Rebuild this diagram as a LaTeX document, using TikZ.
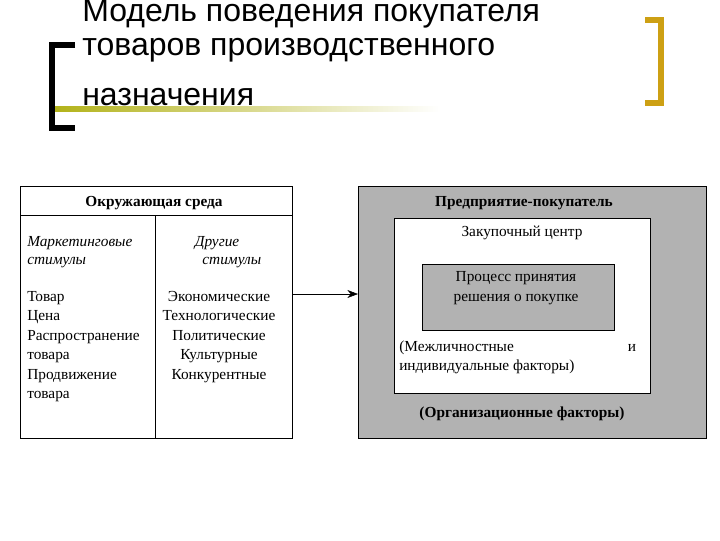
\documentclass[tikz,border=0pt]{standalone}
\usepackage{fontspec}
\usetikzlibrary{arrows.meta}
\setmainfont{Liberation Serif}
\newfontfamily\titlefont{Liberation Sans}
\begin{document}
\begin{tikzpicture}[x=0.75pt,y=-0.75pt,
  txt/.style={inner sep=0pt,font=\fontsize{11.5}{13.5}\selectfont},
  ttl/.style={inner sep=0pt,anchor=west,font=\titlefont\fontsize{24}{26}\selectfont}]
\useasboundingbox (0,0) rectangle (720,540);
\fill[white] (0,0) rectangle (720,540);
% title decoration
\shade[left color=olive!60!white, right color=white] (55,106) rectangle (440,111);
\draw[line width=4pt] (75,45) -- (52,45) -- (52,128) -- (75,128);
\draw[line width=4pt,color={rgb,255:red,205;green,160;blue,20}] (645,20) -- (661,20) -- (661,103) -- (645,103);
\node[ttl] (t1) at (82,14) {Модель поведения покупателя};
\node[ttl] (t2) at (82,50) {товаров производственного};
\node[ttl] (t3) at (82,97) {назначения};
% left box
\draw[line width=0.6pt] (20,186) rectangle (292,438);
\coordinate (L) at (292,294);
\draw (20,215) -- (292,215);
\draw (155,215) -- (155,438);
\node[txt,font=\bfseries\fontsize{11.5}{13.5}\selectfont] (env) at (154,203) {Окружающая среда};
\node[txt,anchor=north west,align=left,font=\itshape\fontsize{11.5}{13.5}\selectfont] (mk) at (27,236) {Маркетинговые\\стимулы};
\node[txt,anchor=north,align=left,font=\itshape\fontsize{11.5}{13.5}\selectfont] (ot) at (228,236) {Другие\\\ \ стимулы};
\node[txt,anchor=north west,align=left,font=\fontsize{11.5}{14.6}\selectfont] (l1) at (27,291) {Товар\\Цена\\Распространение\\товара\\Продвижение\\товара};
\node[txt,anchor=north,align=center,font=\fontsize{11.5}{14.6}\selectfont] (l2) at (219,291) {Экономические\\Технологические\\Политические\\Культурные\\Конкурентные};
% right box
\fill[gray!60] (358,186) rectangle (706,438);
\draw[line width=0.6pt] (358,186) rectangle (706,438);
\coordinate (R) at (358,294);
\draw[-{Stealth[length=8pt,width=6pt]}] (L) -- (R);
\node[txt,font=\bfseries\fontsize{11.5}{13.5}\selectfont] (ent) at (524,203) {Предприятие-покупатель};
\fill[white] (394,218) rectangle (650,393);
\draw (394,218) rectangle (650,393);
\node[txt] (zc) at (522,233) {Закупочный центр};
\fill[gray!60] (422,264) rectangle (614,330);
\draw (422,264) rectangle (614,330);
\node[txt,align=center,font=\fontsize{11.5}{15}\selectfont] (pr) at (516,288) {Процесс принятия\\решения о покупке};
\node[txt,anchor=west] (m1) at (399,348) {(Межличностные};
\node[txt] (m2) at (632,348) {и};
\node[txt,anchor=west] (m3) at (399,367) {индивидуальные факторы)};
\node[txt,font=\bfseries\fontsize{11.5}{13.5}\selectfont] (org) at (522,414) {(Организационные факторы)};
\end{tikzpicture}
\end{document}
